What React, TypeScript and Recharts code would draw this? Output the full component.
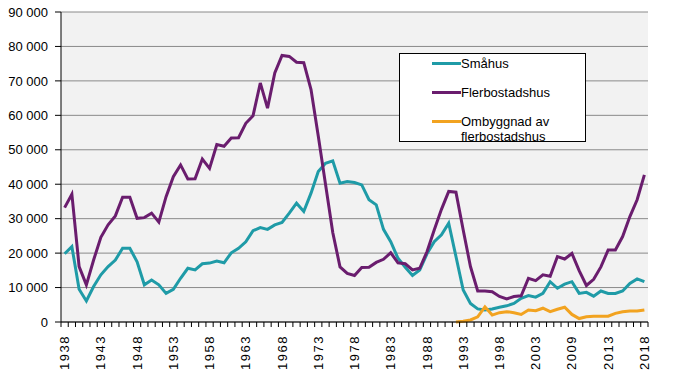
import { LineChart, Line, XAxis, YAxis, CartesianGrid } from "recharts"

const years = [
  1938, 1939, 1940, 1941, 1942, 1943, 1944, 1945, 1946, 1947,
  1948, 1949, 1950, 1951, 1952, 1953, 1954, 1955, 1956, 1957,
  1958, 1959, 1960, 1961, 1962, 1963, 1964, 1965, 1966, 1967,
  1968, 1969, 1970, 1971, 1972, 1973, 1974, 1975, 1976, 1977,
  1978, 1979, 1980, 1981, 1982, 1983, 1984, 1985, 1986, 1987,
  1988, 1989, 1990, 1991, 1992, 1993, 1994, 1995, 1996, 1997,
  1998, 1999, 2000, 2001, 2002, 2003, 2004, 2005, 2006, 2007,
  2008, 2009, 2010, 2011, 2012, 2013, 2014, 2015, 2016, 2017,
  2018,
]

const smahus = [
  19800, 21900, 9500, 6100, 10300, 13700, 16100, 18000, 21400, 21400,
  17500, 10800, 12200, 10800, 8300, 9500, 12700, 15600, 15100, 16900,
  17100, 17700, 17200, 20100, 21400, 23300, 26500, 27400, 26900, 28200,
  28900, 31600, 34500, 32100, 37400, 43700, 46100, 46800, 40300, 40800,
  40500, 39800, 35500, 34000, 26900, 23300, 18500, 15900, 13500, 15100,
  19800, 23300, 25300, 28700, 19000, 9300, 5400, 3800, 3500, 3800,
  4300, 4700, 5400, 6900, 7700, 7200, 8300, 11700, 9800, 11000,
  11700, 8300, 8600, 7500, 9000, 8300, 8300, 9000, 11200, 12500,
  11700,
]

const flerbostadshus = [
  33200, 37100, 16100, 10800, 18000, 24600, 28200, 30800, 36200, 36200,
  30100, 30300, 31600, 29000, 36400, 42200, 45600, 41500, 41600, 47300,
  44600, 51500, 51000, 53400, 53500, 57700, 59900, 69400, 62100, 72300,
  77400, 77100, 75400, 75300, 67500, 54000, 40000, 26000, 16000, 14100,
  13500, 15800, 15900, 17300, 18200, 20100, 17200, 16900, 15100, 15600,
  20400, 26700, 32700, 37900, 37700, 26700, 16100, 9000, 9000, 8800,
  7400, 6700, 7400, 7600, 12700, 12000, 13700, 13300, 19000, 18300,
  19900, 14900, 10600, 12400, 16000, 20900, 20900, 24800, 30600, 35500,
  42700,
]

// ombyggnad series starts in 1992
const ombyggnadStart = 1992
const ombyggnad = [
  0, 200, 600, 1500, 4400, 2000, 2700, 3000, 2700, 2200,
  3500, 3300, 4000, 3000, 3700, 4300, 2200, 1000, 1500, 1700,
  1700, 1700, 2500, 3000, 3200, 3200, 3500,
]

const xTickLabels = [
  "1938", "1943", "1948", "1953", "1958", "1963", "1968", "1973", "1978",
  "1983", "1988", "1993", "1998", "2003", "2009", "2013", "2018",
]
const yTicks = [0, 10000, 20000, 30000, 40000, 50000, 60000, 70000, 80000, 90000]

const series = [
  { key: "smahus", name: "Småhus", color: "#1F9BA7" },
  { key: "flerbostadshus", name: "Flerbostadshus", color: "#6A1D6E" },
  { key: "ombyggnad", name: "Ombyggnad av flerbostadshus", color: "#F2A320" },
]

const data = years.map((year, i) => ({
  year,
  smahus: smahus[i],
  flerbostadshus: flerbostadshus[i],
  ombyggnad: year >= ombyggnadStart ? ombyggnad[year - ombyggnadStart] : null,
}))

const FONT = "'Liberation Sans', Arial, sans-serif"
const W = 678
const H = 392
const PLOT_LEFT = 61
const PLOT_RIGHT = 648
const HALF = (PLOT_RIGHT - PLOT_LEFT) / years.length / 2

const fmt = (v: number) => String(v).replace(/\B(?=(\d{3})+(?!\d))/g, " ")

function YearTick(props: any) {
  const { x, y, index } = props
  const showLabel = index % 5 === 0
  const last = index === years.length - 1
  return (
    <g>
      <line x1={x - HALF} y1={y} x2={x - HALF} y2={y + 5} stroke="#000" />
      {last && <line x1={x + HALF} y1={y} x2={x + HALF} y2={y + 5} stroke="#000" />}
      {showLabel && (
        <text
          x={x}
          y={y + 13}
          dy="0.35em"
          transform={`rotate(-90, ${x}, ${y + 13})`}
          textAnchor="end"
          fontSize={13}
          letterSpacing={1.5}
          fontFamily={FONT}
          fill="#000"
        >
          {xTickLabels[index / 5]}
        </text>
      )}
    </g>
  )
}

export default function App() {
  return (
    <div style={{ position: "absolute", left: 0, top: 0, width: W, height: H, background: "#fff" }}>
      <LineChart width={W} height={H} data={data} margin={{ top: 12, right: 30, left: 0, bottom: 0 }}>
        <CartesianGrid vertical={false} stroke="#8A8A8A" fill="#F2F2F2" />
        <XAxis
          dataKey="year"
          type="category"
          interval={0}
          height={70}
          padding={{ left: HALF, right: HALF }}
          tickLine={false}
          tickSize={0}
          tickMargin={0}
          axisLine={{ stroke: "#000" }}
          tick={<YearTick />}
        />
        <XAxis xAxisId="top" orientation="top" dataKey="year" height={0} tick={false} tickLine={false} axisLine={{ stroke: "#000" }} />
        <YAxis
          domain={[0, 90000]}
          ticks={yTicks}
          width={PLOT_LEFT}
          tickSize={6}
          tickMargin={7}
          tickFormatter={fmt}
          axisLine={{ stroke: "#000" }}
          tickLine={{ stroke: "#000" }}
          tick={{ fontSize: 13, fontFamily: FONT, fill: "#000" }}
        />
        <YAxis yAxisId="right" orientation="right" width={0} tick={false} tickLine={false} axisLine={{ stroke: "#404040" }} />
        {series.map((s) => (
          <Line
            key={s.key}
            dataKey={s.key}
            name={s.name}
            stroke={s.color}
            strokeWidth={3}
            dot={false}
            type="linear"
            isAnimationActive={false}
          />
        ))}
      </LineChart>
      <div
        style={{
          position: "absolute",
          left: 399,
          top: 53,
          width: 187,
          height: 89,
          boxSizing: "border-box",
          border: "1px solid #000",
          background: "#fff",
          fontFamily: FONT,
          fontSize: 13,
          lineHeight: "15px",
        }}
      >
        {series.map((s, i) => (
          <div key={s.key} style={{ position: "absolute", left: 32, top: 2 + i * 29, display: "flex", alignItems: "flex-start" }}>
            <div style={{ width: 29, height: 3, background: s.color, marginTop: 6 }} />
            <div style={{ width: s.key === "ombyggnad" ? 100 : 140 }}>{s.name}</div>
          </div>
        ))}
      </div>
    </div>
  )
}
